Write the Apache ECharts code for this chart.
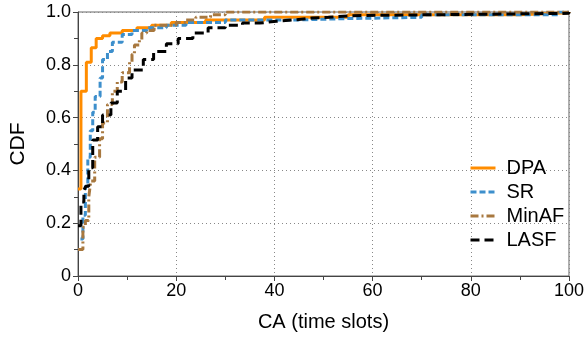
<!DOCTYPE html>
<html>
<head>
<meta charset="utf-8">
<script src="https://cdn.jsdelivr.net/npm/echarts@6/dist/echarts.min.js"></script>
<style>
  html, body { margin: 0; padding: 0; background: #fff; }
  #chart { width: 587px; height: 337px; }
</style>
</head>
<body>
<div id="chart"></div>
<script>
// CDF step points [CA, CDF]
var dpa = [[0, 0.33], [0.6, 0.70], [1.7, 0.81], [2.7, 0.865], [3.7, 0.90], [5, 0.91], [6.5, 0.92],
  [9, 0.93], [12, 0.94], [15, 0.95], [19, 0.96], [26, 0.97], [38, 0.98], [55, 0.99], [90, 0.997], [100, 1.0]];
var sr = [[0.5, 0.14], [1, 0.23], [1.5, 0.34], [2, 0.45], [2.5, 0.55], [3, 0.62], [3.5, 0.68], [4.5, 0.75],
  [5, 0.82], [6, 0.85], [7, 0.885], [9, 0.915], [11, 0.93], [14, 0.94], [18, 0.95], [22, 0.96], [30, 0.97],
  [45, 0.975], [55, 0.98], [70, 0.99], [98, 1.0], [100, 1.0]];
var minaf = [[0, 0.1], [1, 0.185], [1.5, 0.21], [2.2, 0.3], [2.6, 0.36], [3.4, 0.45], [4.4, 0.52], [5, 0.58],
  [6, 0.65], [7, 0.70], [8, 0.735], [9, 0.77], [10.5, 0.81], [11, 0.84], [11.5, 0.875], [12.5, 0.895],
  [13, 0.92], [14, 0.93], [15.5, 0.95], [20, 0.96], [22, 0.97], [24, 0.98], [27, 0.99], [30, 1.0], [100, 1.0]];
var lasf = [[0, 0.19], [0.6, 0.28], [1.2, 0.325], [1.6, 0.34], [2.2, 0.41], [3, 0.515], [4, 0.565], [5, 0.61],
  [6.7, 0.655], [8, 0.70], [9.7, 0.75], [11, 0.78], [13.3, 0.82], [15.4, 0.85], [18, 0.88], [20.4, 0.90],
  [23.4, 0.92], [26.5, 0.94], [30, 0.95], [33.5, 0.958], [37, 0.965], [40.4, 0.97], [44, 0.977],
  [47.7, 0.98], [51, 0.985], [55, 0.987], [58.6, 0.99], [75, 0.995], [100, 1.0]];
var names = ['DPA', 'SR', 'MinAF', 'LASF'];

var font = '"Liberation Sans", Arial, sans-serif';
var chart = echarts.init(document.getElementById('chart'), null, { renderer: 'canvas' });

function line(name, data, color, dash) {
  return {
    name: name,
    type: 'line',
    step: 'end',
    data: data,
    showSymbol: false,
    symbol: 'none',
    clip: true,
    lineStyle: { color: color, width: 3, type: dash },
    itemStyle: { color: color }
  };
}

chart.setOption({
  animation: false,
  grid: { left: 77, right: 14, top: 12, bottom: 61, show: true, borderColor: '#666', borderWidth: 1 },
  legend: {
    data: names,
    orient: 'vertical',
    left: 464,
    top: 153,
    itemWidth: 25,
    itemHeight: 14,
    itemGap: 4,
    itemStyle: { color: 'rgba(0,0,0,0)', borderWidth: 0, opacity: 0 },
    lineStyle: { width: 3 },
    textStyle: { fontFamily: font, fontSize: 20, color: '#000', padding: [0, 0, 0, 6] }
  },
  xAxis: {
    type: 'value', min: 0, max: 100, interval: 20,
    name: 'CA (time slots)', nameLocation: 'middle', nameGap: 36,
    nameTextStyle: { fontFamily: font, fontSize: 20, color: '#000' },
    axisLine: { lineStyle: { color: '#444' } },
    axisTick: { inside: false, length: 5, lineStyle: { color: '#444' } },
    minorTick: { show: true, splitNumber: 2, length: 4, lineStyle: { color: '#444' } },
    axisLabel: { fontFamily: font, fontSize: 18, color: '#000', margin: 6 },
    splitLine: { show: true, lineStyle: { color: '#888', type: [1, 3] } }
  },
  yAxis: {
    type: 'value', min: 0, max: 1, interval: 0.2,
    name: 'CDF', nameLocation: 'middle', nameGap: 49,
    nameTextStyle: { fontFamily: font, fontSize: 21, color: '#000' },
    axisLine: { show: true, lineStyle: { color: '#444' } },
    axisTick: { show: true, length: 5, lineStyle: { color: '#444' } },
    minorTick: { show: true, splitNumber: 2, length: 4, lineStyle: { color: '#444' } },
    axisLabel: {
      fontFamily: font, fontSize: 18, color: '#000', margin: 7,
      formatter: function (v) { return v === 0 ? '0' : v.toFixed(1); }
    },
    splitLine: { show: true, lineStyle: { color: '#888', type: [1, 3] } }
  },
  series: [
    line('DPA', dpa, '#ff8c00', 'solid'),
    line('SR', sr, '#3d8fcc', [6, 3]),
    line('MinAF', minaf, '#a8783f', [8, 3, 2, 3]),
    line('LASF', lasf, '#000000', [9, 5])
  ]
});
</script>
</body>
</html>
